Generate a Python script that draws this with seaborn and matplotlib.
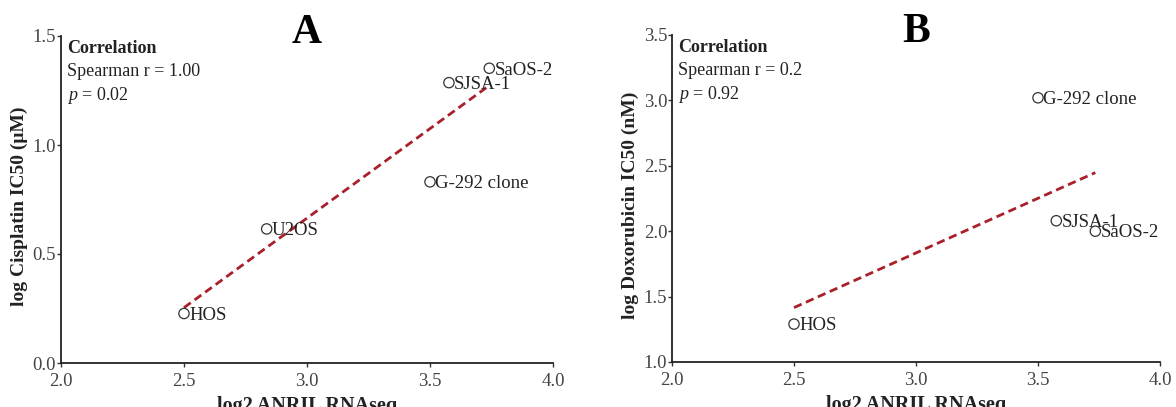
import matplotlib
matplotlib.use("Agg")
import matplotlib.pyplot as plt
import seaborn as sns
import pandas as pd

sns.set_theme(style="ticks")
plt.rcParams['font.family'] = ['Liberation Serif', 'DejaVu Serif']
plt.rcParams['mathtext.fontset'] = 'custom'
plt.rcParams['mathtext.rm'] = 'Liberation Serif'
plt.rcParams['mathtext.it'] = 'Liberation Serif:italic'
plt.rcParams['mathtext.bf'] = 'Liberation Serif:bold'

# Panel A: cisplatin
a_lines = ["HOS", "U2OS", "SJSA-1", "SaOS-2", "G-292 clone"]
a_x = [2.50, 2.836, 3.577, 3.741, 3.50]
a_y = [0.227, 0.615, 1.286, 1.352, 0.831]
a_fit_x = [2.50, 3.73]
a_fit_y = [0.254, 1.264]

# Panel B: doxorubicin
b_lines = ["HOS", "G-292 clone", "SJSA-1", "SaOS-2"]
b_x = [2.50, 3.50, 3.575, 3.735]
b_y = [1.29, 3.02, 2.08, 2.00]
b_fit_x = [2.50, 3.735]
b_fit_y = [1.416, 2.448]

a_stats = ["Spearman r = 1.00", "0.02"]
b_stats = ["Spearman r = 0.2", "0.92"]

fig = plt.figure(figsize=(11.76, 4.07), dpi=100)
axA = fig.add_axes([61/1176, 1-363/407, 492/1176, 327/407])
axB = fig.add_axes([672/1176, 1-362/407, 488/1176, 327/407])

TXT = "#222222"
TICK = "#444444"

def draw(ax, names, xs, ys, fx, fy, ylim, yticks, ylabel, letter, stats):
    df = pd.DataFrame({"x": xs, "y": ys, "name": names})
    sns.lineplot(x=fx, y=fy, ax=ax, color="#a8202a", linestyle=(0, (3, 1.7)),
                 linewidth=2.0, zorder=2)
    sns.scatterplot(data=df, x="x", y="y", ax=ax, s=55, facecolor="none",
                    edgecolor="#333333", linewidth=0.9, zorder=3)
    for _, r in df.iterrows():
        ax.annotate(r["name"], (r["x"], r["y"]), xytext=(3.8, -4.5),
                    textcoords="offset points", va="baseline", ha="left",
                    fontsize=13.5, color=TXT, zorder=4)
    ax.set_xlim(2.0, 4.0)
    ax.set_ylim(*ylim)
    ax.set_xticks([2.0, 2.5, 3.0, 3.5, 4.0])
    ax.set_xticklabels(["2.0", "2.5", "3.0", "3.5", "4.0"])
    ax.set_yticks(yticks)
    ax.set_yticklabels([f"{v:.1f}" for v in yticks])
    ax.tick_params(axis="both", length=3, width=1, colors="#333333",
                   labelcolor=TICK, labelsize=13.5)
    ax.tick_params(axis="x", pad=4)
    ax.tick_params(axis="y", pad=0.5)
    for s in ["top", "right"]:
        ax.spines[s].set_visible(False)
    for s in ["left", "bottom"]:
        ax.spines[s].set_linewidth(1.3)
        ax.spines[s].set_color("#222222")
    ax.set_xlabel("log2 ANRIL RNAseq", fontsize=14.5, fontweight="bold",
                  color=TXT, va="top")
    ax.xaxis.set_label_coords(0.5, -0.1)
    ax.set_ylabel(ylabel, fontsize=14, fontweight="bold", color=TXT)
    ax.yaxis.set_label_coords(-0.068, 0.48)
    ax.text(0.5, 0.979, letter, transform=ax.transAxes, ha="center",
            va="baseline", fontsize=30, fontweight="bold", color="black")
    ax.text(0.012, 0.963, "Correlation", transform=ax.transAxes,
            fontsize=13, fontweight="bold", va="center", color=TXT)
    ax.text(0.012, 0.890, stats[0], transform=ax.transAxes,
            fontsize=13, va="center", color=TXT)
    ax.text(0.012, 0.818, r"$p$" + " = " + stats[1],
            transform=ax.transAxes, fontsize=13, va="center", color=TXT)

draw(axA, a_lines, a_x, a_y, a_fit_x, a_fit_y, (0.0, 1.5),
     [0.0, 0.5, 1.0, 1.5], "log Cisplatin IC50 (\u03bcM)", "A", a_stats)
draw(axB, b_lines, b_x, b_y, b_fit_x, b_fit_y, (1.0, 3.5),
     [1.0, 1.5, 2.0, 2.5, 3.0, 3.5], "log Doxorubicin IC50 (nM)", "B", b_stats)

fig.savefig("out.png", dpi=100)
